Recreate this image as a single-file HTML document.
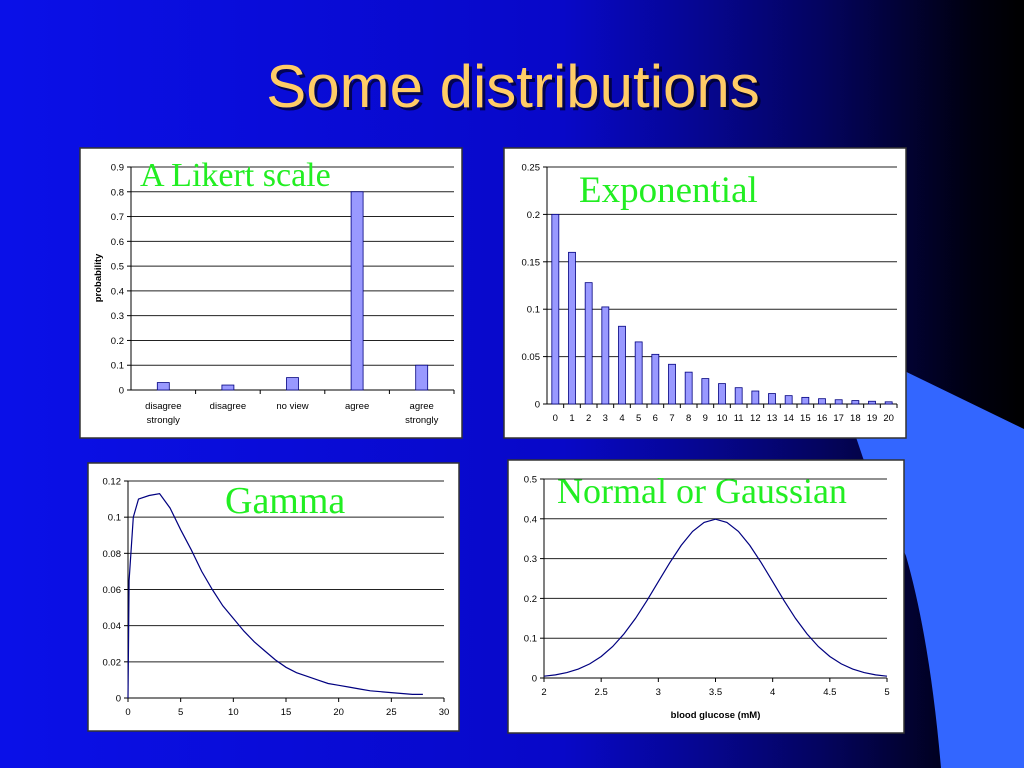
<!DOCTYPE html>
<html><head><meta charset="utf-8"><style>
html,body{margin:0;padding:0;width:1024px;height:768px;overflow:hidden;background:#000}
svg{display:block}
</style></head><body>
<svg id="s" width="1024" height="768" xmlns="http://www.w3.org/2000/svg">
<defs>
<linearGradient id="bg" x1="0" y1="0" x2="1" y2="0">
<stop offset="0" stop-color="#0a10e8"/><stop offset="0.55" stop-color="#0808c8"/>
<stop offset="0.8" stop-color="#040460"/><stop offset="0.95" stop-color="#000010"/><stop offset="1" stop-color="#000000"/>
</linearGradient>
</defs>
<rect width="1024" height="768" fill="url(#bg)"/>
<path d="M820,330 L1024,429 L1024,768 L941,768 Q930,640 906,556 L863,458 Z" fill="#3366ff"/>
<text x="513" y="107" text-anchor="middle" font-family="Liberation Sans, sans-serif" font-size="60" fill="#000" opacity="0.6" transform="translate(3,3)">Some distributions</text>
<text x="513" y="107" text-anchor="middle" font-family="Liberation Sans, sans-serif" font-size="60" fill="#ffcc66">Some distributions</text>
<g id="g1"></g>
<g id="g2"></g>
<g id="g3"></g>
<g id="g4"></g>
</svg>
<script>
const likertCats=["disagree|strongly","disagree","no view","agree","agree|strongly"];
const likertVals=[0.03,0.02,0.05,0.8,0.1];
const likertTicks=["0","0.1","0.2","0.3","0.4","0.5","0.6","0.7","0.8","0.9"];
const expCats=["0","1","2","3","4","5","6","7","8","9","10","11","12","13","14","15","16","17","18","19","20"];
const expVals=[0.2,0.16,0.128,0.1024,0.082,0.0655,0.0524,0.0419,0.0336,0.0268,0.0215,0.0172,0.0137,0.011,0.0088,0.007,0.0056,0.0045,0.0036,0.0029,0.0023];
const expTicks=["0","0.05","0.1","0.15","0.2","0.25"];
const gammaX=[0,0.1,0.5,1,2,3,4,5,6,7,8,9,10,11,12,13,14,15,16,17,18,19,20,21,22,23,24,25,26,27,28];
const gammaY=[0,0.065,0.1,0.11,0.112,0.113,0.105,0.093,0.082,0.07,0.06,0.051,0.044,0.037,0.031,0.026,0.021,0.017,0.014,0.012,0.01,0.008,0.007,0.006,0.005,0.004,0.0035,0.003,0.0025,0.002,0.002];
const gammaYTicks=["0","0.02","0.04","0.06","0.08","0.1","0.12"];
const gammaXTicks=["0","5","10","15","20","25","30"];
const normX=[2,2.1,2.2,2.3,2.4,2.5,2.6,2.7,2.8,2.9,3,3.1,3.2,3.3,3.4,3.5,3.6,3.7,3.8,3.9,4,4.1,4.2,4.3,4.4,4.5,4.6,4.7,4.8,4.9,5];
const normY=[0.0044,0.0079,0.0136,0.0224,0.0355,0.054,0.079,0.1109,0.1497,0.1942,0.242,0.2897,0.3332,0.3683,0.391,0.3989,0.391,0.3683,0.3332,0.2897,0.242,0.1942,0.1497,0.1109,0.079,0.054,0.0355,0.0224,0.0136,0.0079,0.0044];
const normYTicks=["0","0.1","0.2","0.3","0.4","0.5"];
const normXTicks=["2","2.5","3","3.5","4","4.5","5"];

const NS="http://www.w3.org/2000/svg";
function mk(p,t,a,txt){const e=document.createElementNS(NS,t);for(const k in a)e.setAttribute(k,a[k]);if(txt!=null)e.textContent=txt;p.appendChild(e);return e;}
const F="Liberation Sans, sans-serif";

function frame(g,x,y,w,h){const r=mk(g,"rect",{x:x,y:y,width:w,height:h,fill:"#fff",stroke:"#333","stroke-width":1.5});

}
function yAxis(g,L,R,T,B,ticks,max){
  const ys=v=>B-(v/max)*(B-T);
  ticks.forEach(t=>{const v=parseFloat(t),y=ys(v);
    if(v>0){const gl=mk(g,"line",{x1:L,x2:R,y1:y,y2:y,stroke:"#222","stroke-width":1});
      
      }
    mk(g,"line",{x1:L-4,x2:L,y1:y,y2:y,stroke:"#000"});
    const tl=mk(g,"text",{x:L-7,y:y+3.5,"text-anchor":"end","font-family":F,"font-size":9.5},t);
    
    });
  mk(g,"line",{x1:L,x2:L,y1:T,y2:B,stroke:"#000"});
  mk(g,"line",{x1:L,x2:R,y1:B,y2:B,stroke:"#000"});
  return ys;
}
function title(g,x,y,s,txt){const t=mk(g,"text",{x:x,y:y,"font-family":"Liberation Serif, serif","font-size":s,fill:"#22ee22"},txt);

}

// Chart 1 Likert
(function(){const g=document.getElementById("g1");frame(g,80,148,382,290);
const L=131,R=454,T=167,B=390;const ys=yAxis(g,L,R,T,B,likertTicks,0.9);
const cw=(R-L)/likertCats.length;
likertCats.forEach((c,i)=>{const cx=L+cw*(i+0.5);
  mk(g,"line",{x1:L+cw*(i+1),x2:L+cw*(i+1),y1:B,y2:B+4,stroke:"#000"});
  const b=mk(g,"rect",{x:cx-6,y:ys(likertVals[i]),width:12,height:B-ys(likertVals[i]),fill:"#9999ff",stroke:"#000080","stroke-width":0.8});
  
  
  c.split("|").forEach((p,j)=>{const t=mk(g,"text",{x:cx,y:409+j*14,"text-anchor":"middle","font-family":F,"font-size":9.5},p);
    
    });});
const yl=mk(g,"text",{x:0,y:0,transform:"translate(101,278) rotate(-90)","text-anchor":"middle","font-family":F,"font-size":9.5,"font-weight":"bold"},"probability");


title(g,140,186,34,"A Likert scale");})();

// Chart 2 Exponential
(function(){const g=document.getElementById("g2");frame(g,504,148,402,290);
const L=547,R=897,T=167,B=404;const ys=yAxis(g,L,R,T,B,expTicks,0.25);
const cw=(R-L)/expCats.length;
expCats.forEach((c,i)=>{const cx=L+cw*(i+0.5);
  mk(g,"line",{x1:L+cw*(i+1),x2:L+cw*(i+1),y1:B,y2:B+4,stroke:"#000"});
  const b=mk(g,"rect",{x:cx-3.5,y:ys(expVals[i]),width:7,height:B-ys(expVals[i]),fill:"#9999ff",stroke:"#000080","stroke-width":0.8});
  
  
  const t=mk(g,"text",{x:cx,y:421,"text-anchor":"middle","font-family":F,"font-size":9.5},c);
  
  });
title(g,579,202,37,"Exponential");})();

function lineChart(id,box,L,R,T,B,yt,ymax,xt,xmin,xmax,X,Y,ttl,xlab){
const g=document.getElementById(id);frame(g,box[0],box[1],box[2],box[3]);
const ys=yAxis(g,L,R,T,B,yt,ymax);const xs=v=>L+(v-xmin)/(xmax-xmin)*(R-L);
xt.forEach(t=>{const x=xs(parseFloat(t));mk(g,"line",{x1:x,x2:x,y1:B,y2:B+4,stroke:"#000"});
  const tl=mk(g,"text",{x:x,y:B+17,"text-anchor":"middle","font-family":F,"font-size":9.5},t);
  
  });
const d=X.map((x,i)=>(i?"L":"M")+xs(x).toFixed(1)+","+ys(Y[i]).toFixed(1)).join(" ");
const p=mk(g,"path",{d:d,fill:"none",stroke:"#000080","stroke-width":1.2});


if(xlab){const t=mk(g,"text",{x:(L+R)/2,y:B+40,"text-anchor":"middle","font-family":F,"font-size":9.5,"font-weight":"bold"},xlab);
  
  }
return g;}
const g3=lineChart("g3",[88,463,371,268],128,444,481,698,gammaYTicks,0.12,gammaXTicks,0,30,gammaX,gammaY);
title(g3,225,513,38,"Gamma");
const g4=lineChart("g4",[508,460,396,273],544,887,479,678,normYTicks,0.5,normXTicks,2,5,normX,normY,"Normal or Gaussian","blood glucose (mM)");
title(g4,557,503,36,"Normal or Gaussian");
</script>
</body></html>
